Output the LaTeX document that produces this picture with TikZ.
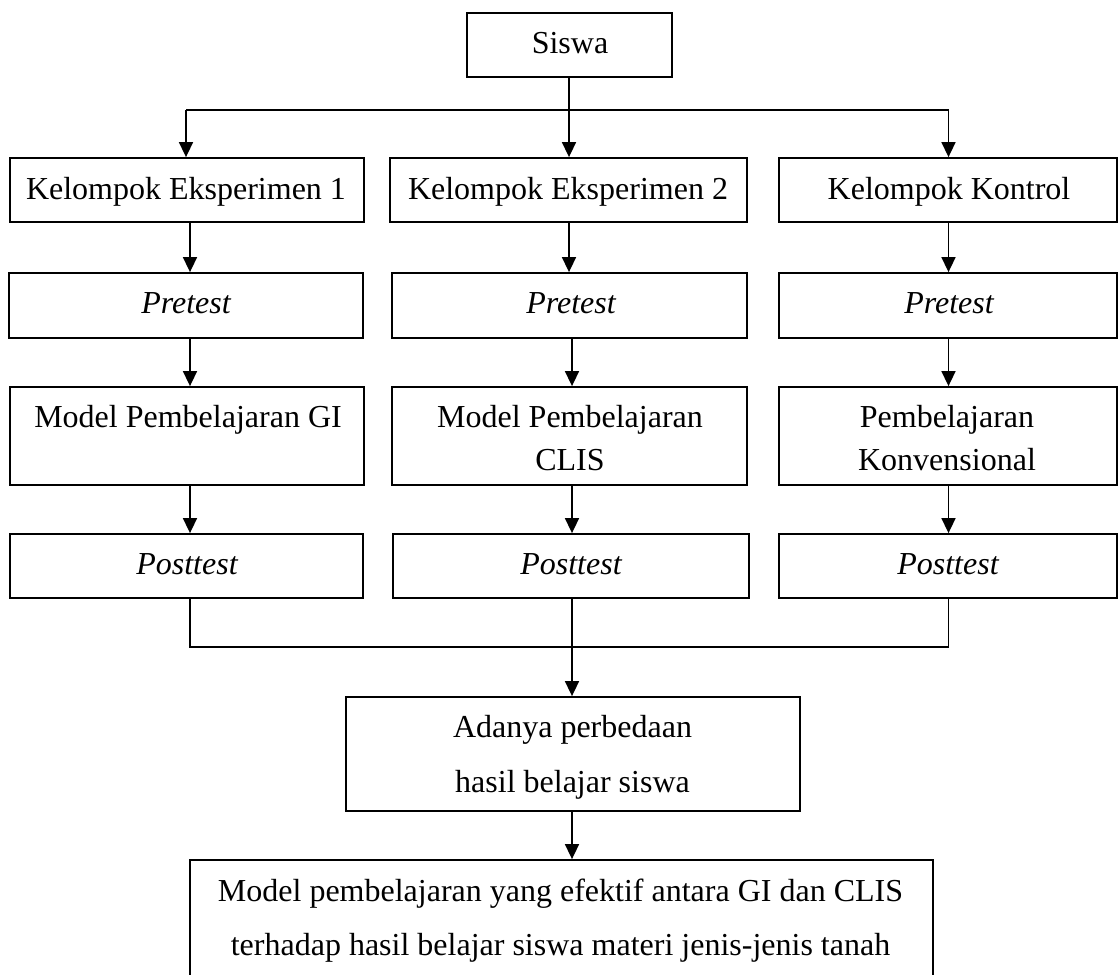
\documentclass[tikz,border=0pt]{standalone}
\usepackage{fontspec}
\setmainfont{Liberation Serif}
\usetikzlibrary{arrows.meta}
\begin{document}
\begin{tikzpicture}[x=1pt,y=-1pt,
  box/.style={draw=black,line width=1.8pt,rectangle,inner sep=0pt},
  txt/.style={anchor=base,inner sep=0pt,font=\fontsize{32}{38}\selectfont},
  itxt/.style={txt,font=\fontsize{32}{38}\selectfont\itshape},
  conn/.style={draw=black,line width=1.6pt},
  arr/.style={conn,-{Triangle[width=14pt,length=15pt]}}]
\clip (0,0) rectangle (1118,974);
% boxes
\node[box,minimum width=205pt,minimum height=64pt] (siswa) at (569.5,45) {};
\node[box,minimum width=354pt,minimum height=64pt] (k1) at (187,190) {};
\node[box,minimum width=357pt,minimum height=64pt] (k2) at (568.5,190) {};
\node[box,minimum width=338pt,minimum height=64pt] (k3) at (948,190) {};
\node[box,minimum width=354pt,minimum height=65pt] (p1) at (186,305.5) {};
\node[box,minimum width=355pt,minimum height=65pt] (p2) at (569.5,305.5) {};
\node[box,minimum width=338pt,minimum height=65pt] (p3) at (948,305.5) {};
\node[box,minimum width=354pt,minimum height=98pt] (m1) at (187,436) {};
\node[box,minimum width=355pt,minimum height=98pt] (m2) at (569.5,436) {};
\node[box,minimum width=338pt,minimum height=98pt] (m3) at (948,436) {};
\node[box,minimum width=353pt,minimum height=64pt] (t1) at (186.5,566) {};
\node[box,minimum width=356pt,minimum height=64pt] (t2) at (571,566) {};
\node[box,minimum width=338pt,minimum height=64pt] (t3) at (948,566) {};
\node[box,minimum width=454pt,minimum height=114pt] (a) at (573,754) {};
\node[box,minimum width=743pt,minimum height=140pt] (b) at (561.5,930) {};
% texts
\node[txt] (siswat) at (570,53) {Siswa};
\node[txt] (k1t) at (186,199) {Kelompok Eksperimen 1};
\node[txt] (k2t) at (568,199) {Kelompok Eksperimen 2};
\node[txt] (k3t) at (949,199) {Kelompok Kontrol};
\node[itxt] (p1t) at (186,313) {Pretest};
\node[itxt] (p2t) at (571,313) {Pretest};
\node[itxt] (p3t) at (949,313) {Pretest};
\node[txt] (m1t) at (188,427) {Model Pembelajaran GI};
\node[txt] (m2t) at (570,427) {Model Pembelajaran};
\node[txt] (m2u) at (570,470) {CLIS};
\node[txt] (m3t) at (947,427) {Pembelajaran};
\node[txt] (m3u) at (947,470) {Konvensional};
\node[itxt] (t1t) at (187,574) {Posttest};
\node[itxt] (t2t) at (571,574) {Posttest};
\node[itxt] (t3t) at (948,574) {Posttest};
\node[txt] (at) at (572.5,737) {Adanya perbedaan};
\node[txt] (au) at (572.5,792) {hasil belajar siswa};
\node[txt] (bt) at (560.5,901) {Model pembelajaran yang efektif antara GI dan CLIS};
\node[txt] (bu) at (560.5,955) {terhadap hasil belajar siswa materi jenis-jenis tanah};
% coordinates
\coordinate (xA) at (186,0);
\coordinate (xB) at (569,0);
\coordinate (x1) at (190,0);
\coordinate (x2) at (572,0);
\coordinate (x3) at (948.5,0);
\coordinate (hy) at (0,110);
\coordinate (jy) at (0,647);
% top distribution
\draw[conn] (siswa.south -| xB) -- (hy -| xB);
\draw[conn] (hy -| xA) -- (hy -| x3);
\draw[arr] (hy -| xA) -- (k1.north -| xA);
\draw[arr] (hy -| xB) -- (k2.north -| xB);
\draw[arr] (hy -| x3) -- (k3.north -| x3);
% columns
\draw[arr] (k1.south -| x1) -- (p1.north -| x1);
\draw[arr] (k2.south -| xB) -- (p2.north -| xB);
\draw[arr] (k3.south -| x3) -- (p3.north -| x3);
\draw[arr] (p1.south -| x1) -- (m1.north -| x1);
\draw[arr] (p2.south -| x2) -- (m2.north -| x2);
\draw[arr] (p3.south -| x3) -- (m3.north -| x3);
\draw[arr] (m1.south -| x1) -- (t1.north -| x1);
\draw[arr] (m2.south -| x2) -- (t2.north -| x2);
\draw[arr] (m3.south -| x3) -- (t3.north -| x3);
% join
\draw[conn] (t1.south -| x1) -- (jy -| x1) -- (jy -| x3) -- (t3.south -| x3);
\draw[arr] (t2.south -| x2) -- (a.north -| x2);
\draw[arr] (a.south -| x2) -- (b.north -| x2);
\end{tikzpicture}
\end{document}
